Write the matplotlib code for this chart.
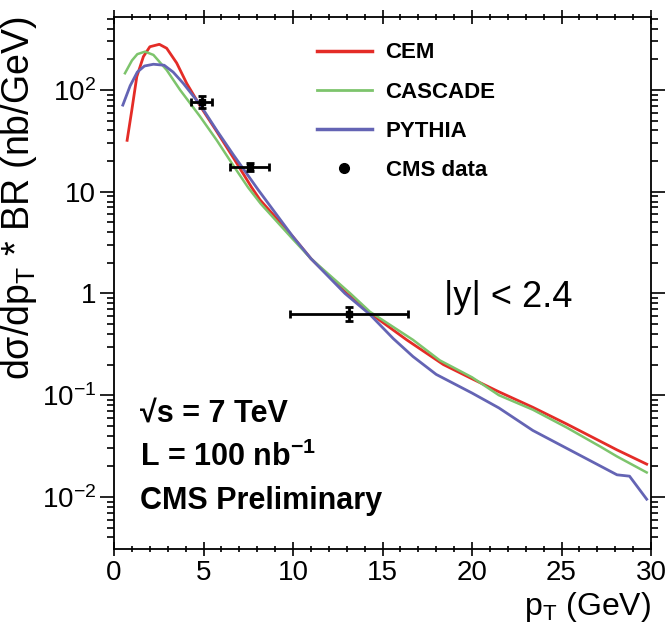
import matplotlib
matplotlib.use("Agg")
import matplotlib.pyplot as plt
from matplotlib.lines import Line2D
from matplotlib.ticker import FixedLocator, LogLocator, NullFormatter, FixedFormatter, MultipleLocator

plt.rcParams['font.family'] = ['Liberation Sans', 'DejaVu Sans']
plt.rcParams['mathtext.fontset'] = 'custom'
plt.rcParams['mathtext.rm'] = 'Liberation Sans'
plt.rcParams['mathtext.it'] = 'Liberation Sans'
plt.rcParams['mathtext.bf'] = 'Liberation Sans:bold'

# ---- data ----
cem_pt = [0.73, 0.99, 1.27, 1.64, 2.0, 2.53, 2.94, 3.5, 4.06, 4.8, 5.74, 6.67, 7.69, 8.16,
          10.0, 11.0, 13.0, 14.3, 16.35, 18.4, 20.0, 21.5, 23.4, 25.3, 27.2, 28.1, 29.76]
cem_val = [32, 63, 135, 213, 266, 281, 257, 184, 116, 70, 39, 21.5, 11.0, 8.3,
           3.6, 2.2, 1.0, 0.64, 0.35, 0.20, 0.145, 0.108, 0.076, 0.052, 0.035, 0.029, 0.021]

cas_pt = [0.61, 1.0, 1.3, 1.73, 2.2, 2.94, 3.69, 4.8, 5.74, 6.67, 7.49, 8.2,
          10.0, 11.0, 13.2, 14.3, 16.7, 18.2, 20.0, 21.5, 23.4, 25.3, 27.2, 28.1, 29.76]
cas_val = [146, 195, 225, 238, 221, 157, 100, 55, 32, 18, 11.0, 7.6,
           3.4, 2.2, 1.0, 0.66, 0.35, 0.22, 0.15, 0.10, 0.072, 0.048, 0.031, 0.025, 0.0174]

pyt_pt = [0.49, 0.9, 1.3, 1.7, 2.2, 2.8, 3.3, 3.87, 4.8, 5.74, 6.67, 8.06,
          10.0, 11.0, 12.9, 14.3, 15.6, 16.7, 18.0, 20.0, 21.5, 23.4, 25.3, 27.2, 28.1, 28.8, 29.76]
pyt_val = [71, 110, 150, 172, 179, 175, 150, 116, 72, 40, 23, 10.4,
           3.6, 2.2, 1.0, 0.62, 0.36, 0.24, 0.16, 0.105, 0.075, 0.045, 0.03, 0.02, 0.0165, 0.016, 0.0095]

data_pt = [4.9, 7.6, 13.1]
data_val = [76.7, 17.4, 0.63]
data_xlo = [4.3, 6.48, 9.83]
data_xhi = [5.5, 8.68, 16.4]
data_ylo = [66, 15.9, 0.54]
data_yhi = [88, 19.0, 0.73]

ytick_vals = [1e-2, 1e-1, 1, 10, 100]
ytick_labels = [r'10$^{-2}$', r'10$^{-1}$', '1', '10', r'10$^{2}$']

fig = plt.figure(figsize=(6.67, 6.31), dpi=100)
ax = fig.add_axes([0.171, 0.130, 0.805, 0.843])

ax.plot(cem_pt, cem_val, color='#e42c27', lw=2.0, zorder=3)
ax.plot(cas_pt, cas_val, color='#7dc46c', lw=1.8, zorder=3)
ax.plot(pyt_pt, pyt_val, color='#6464b4', lw=2.0, zorder=3)

xerr = [[c - l for c, l in zip(data_pt, data_xlo)], [h - c for c, h in zip(data_pt, data_xhi)]]
yerr = [[c - l for c, l in zip(data_val, data_ylo)], [h - c for c, h in zip(data_val, data_yhi)]]
ax.errorbar(data_pt, data_val, xerr=xerr, yerr=yerr, fmt='s', color='black', ms=4,
            elinewidth=2.0, capsize=3, capthick=2.0, zorder=4)

ax.set_yscale('log')
ax.set_xlim(0, 30)
ax.set_ylim(0.00308, 521)

ax.yaxis.set_major_locator(FixedLocator(ytick_vals))
ax.yaxis.set_major_formatter(FixedFormatter(ytick_labels))
ax.yaxis.set_minor_locator(LogLocator(base=10, subs=range(2, 10), numticks=20))
ax.yaxis.set_minor_formatter(NullFormatter())
ax.xaxis.set_major_locator(MultipleLocator(5))
ax.xaxis.set_minor_locator(MultipleLocator(1))

ax.tick_params(axis='both', which='both', top=True, right=True, labelsize=20, width=1.2)
ax.tick_params(axis='y', which='both', direction='out')
ax.tick_params(axis='x', which='both', direction='inout')
ax.tick_params(axis='both', which='major', length=10)
ax.tick_params(axis='both', which='minor', length=5)
ax.tick_params(axis='x', pad=3)
ax.tick_params(axis='y', pad=3)
for s in ax.spines.values():
    s.set_linewidth(1.3)

ax.set_xlabel(r'p$_{\mathrm{T}}$ (GeV)', fontsize=23, loc='right', labelpad=3)
ax.set_ylabel(r'd$\sigma$/dp$_{\mathrm{T}}$ * BR (nb/GeV)', fontsize=27, loc='top', labelpad=2)

handles = [Line2D([], [], color='#e42c27', lw=2.5),
           Line2D([], [], color='#7dc46c', lw=2.0),
           Line2D([], [], color='#6464b4', lw=2.5),
           Line2D([], [], color='black', marker='o', ms=7, ls='none')]
labels = ['CEM', 'CASCADE', 'PYTHIA', 'CMS data']
leg = ax.legend(handles, labels, loc='upper left', bbox_to_anchor=(0.34, 0.99), frameon=False,
                prop={'weight': 'bold', 'size': 16}, handlelength=2.5, labelspacing=0.82,
                handletextpad=0.6)

ax.text(0.615, 0.455, '|y| < 2.4', transform=ax.transAxes, fontsize=26)
ax.text(0.048, 0.239, '√s = 7 TeV', transform=ax.transAxes, fontsize=22, fontweight='bold')
ax.text(0.048, 0.156, r'L = 100 nb$^{\mathbf{-1}}$', transform=ax.transAxes, fontsize=22, fontweight='bold')
ax.text(0.048, 0.076, 'CMS Preliminary', transform=ax.transAxes, fontsize=22, fontweight='bold')

fig.savefig('out.png', dpi=100)
